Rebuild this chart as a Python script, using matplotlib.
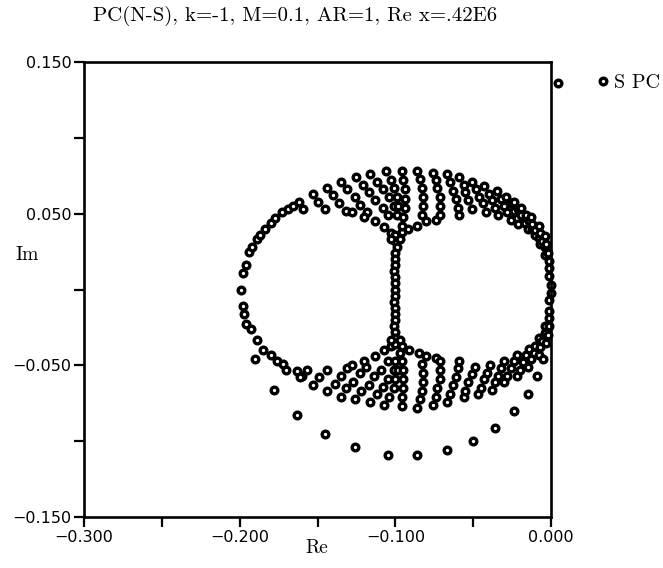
import matplotlib
matplotlib.use("Agg")
import matplotlib.pyplot as plt
from matplotlib import ticker

# eigenvalue spectrum (Re, Im)
# sparse outer ring, left side
ring_re = [-0.199, -0.198, -0.196, -0.194, -0.192, -0.189, -0.187, -0.184, -0.180, -0.177, -0.173, -0.169, -0.166,
           -0.198, -0.197, -0.196, -0.193, -0.189, -0.185, -0.180, -0.176, -0.172, -0.170, -0.163, -0.160]
ring_im = [0.000, 0.011, 0.016, 0.025, 0.028, 0.033, 0.036, 0.040, 0.044, 0.047, 0.051, 0.053, 0.055,
           -0.011, -0.016, -0.023, -0.026, -0.033, -0.040, -0.043, -0.047, -0.049, -0.053, -0.054, -0.057]

# upper half: bead chains running in from the outer ellipse
upper_re = [-0.162, -0.159,
            -0.153, -0.150, -0.145,
            -0.144, -0.140, -0.136, -0.132,
            -0.135, -0.131, -0.126, -0.123, -0.118,
            -0.125, -0.121, -0.117, -0.113, -0.108, -0.105,
            -0.116, -0.112, -0.108, -0.104, -0.101, -0.099,
            -0.106, -0.103, -0.101, -0.099, -0.098,
            -0.128, -0.120, -0.113, -0.107, -0.103,
            -0.096, -0.092, -0.086, -0.080, -0.074,
            -0.096, -0.095, -0.094, -0.094, -0.094, -0.095, -0.096,
            -0.086, -0.084, -0.083, -0.082, -0.082, -0.083,
            -0.076, -0.074, -0.073, -0.071, -0.071, -0.071,
            -0.067, -0.065, -0.063, -0.061, -0.060, -0.059,
            -0.059, -0.056, -0.055, -0.053, -0.051,
            -0.051, -0.048, -0.046, -0.044, -0.042,
            -0.043, -0.040, -0.038, -0.036, -0.034,
            -0.035, -0.032, -0.030, -0.028, -0.026,
            -0.029, -0.026, -0.024, -0.022, -0.021,
            -0.024, -0.021, -0.019, -0.017, -0.015,
            -0.019, -0.016, -0.014, -0.012, -0.010,
            -0.013, -0.012, -0.010, -0.008, -0.007,
            -0.008, -0.007, -0.006, -0.004, -0.004,
            -0.004, -0.003, -0.002, -0.001, -0.001]
upper_im = [0.058, 0.053,
            0.063, 0.058, 0.053,
            0.067, 0.062, 0.057, 0.052,
            0.071, 0.066, 0.061, 0.056, 0.051,
            0.074, 0.069, 0.064, 0.059, 0.054, 0.049,
            0.076, 0.071, 0.066, 0.061, 0.055, 0.049,
            0.078, 0.072, 0.067, 0.061, 0.055,
            0.051, 0.048, 0.045, 0.041, 0.037,
            0.038, 0.040, 0.042, 0.045, 0.046,
            0.078, 0.072, 0.066, 0.060, 0.054, 0.048, 0.042,
            0.078, 0.073, 0.067, 0.061, 0.055, 0.049,
            0.077, 0.072, 0.067, 0.061, 0.055, 0.049,
            0.076, 0.071, 0.065, 0.060, 0.054, 0.049,
            0.074, 0.069, 0.064, 0.059, 0.053,
            0.071, 0.066, 0.061, 0.057, 0.051,
            0.068, 0.063, 0.059, 0.054, 0.049,
            0.065, 0.060, 0.055, 0.051, 0.046,
            0.061, 0.057, 0.052, 0.047, 0.043,
            0.058, 0.053, 0.049, 0.044, 0.040,
            0.054, 0.049, 0.045, 0.040, 0.036,
            0.048, 0.043, 0.039, 0.034, 0.030,
            0.042, 0.037, 0.032, 0.028, 0.023,
            0.035, 0.030, 0.024, 0.019, 0.014]

# lower half chains
lower_re = [-0.161, -0.157,
            -0.153, -0.149, -0.144,
            -0.144, -0.139, -0.135, -0.131,
            -0.135, -0.132, -0.127, -0.123, -0.119,
            -0.126, -0.122, -0.117, -0.114, -0.109, -0.105,
            -0.116, -0.112, -0.108, -0.105, -0.101, -0.100,
            -0.107, -0.104, -0.101, -0.100, -0.098,
            -0.128, -0.120, -0.113, -0.107, -0.103,
            -0.096, -0.091, -0.085, -0.080, -0.074,
            -0.096, -0.096, -0.095, -0.095, -0.095, -0.096, -0.097,
            -0.086, -0.084, -0.083, -0.082, -0.082, -0.083,
            -0.076, -0.074, -0.073, -0.071, -0.071, -0.071,
            -0.067, -0.065, -0.063, -0.061, -0.060, -0.059,
            -0.056, -0.055, -0.053, -0.051, -0.049,
            -0.047, -0.045, -0.043, -0.041, -0.039,
            -0.038, -0.036, -0.034, -0.032, -0.030,
            -0.030, -0.028, -0.026, -0.024, -0.022,
            -0.022, -0.020, -0.018, -0.016, -0.014,
            -0.015, -0.013, -0.011, -0.010, -0.008,
            -0.008, -0.007, -0.006, -0.004, -0.004,
            -0.003, -0.002, -0.001, -0.001, -0.001]
lower_im = [-0.058, -0.053,
            -0.063, -0.058, -0.053,
            -0.067, -0.062, -0.057, -0.052,
            -0.071, -0.065, -0.061, -0.055, -0.051,
            -0.072, -0.067, -0.063, -0.057, -0.053, -0.047,
            -0.074, -0.069, -0.064, -0.059, -0.053, -0.047,
            -0.076, -0.071, -0.065, -0.059, -0.053,
            -0.050, -0.047, -0.044, -0.040, -0.037,
            -0.037, -0.040, -0.042, -0.044, -0.045,
            -0.077, -0.071, -0.065, -0.059, -0.053, -0.047, -0.042,
            -0.078, -0.072, -0.067, -0.061, -0.055, -0.049,
            -0.076, -0.071, -0.065, -0.059, -0.053, -0.047,
            -0.074, -0.069, -0.063, -0.058, -0.052, -0.047,
            -0.071, -0.067, -0.061, -0.056, -0.051,
            -0.069, -0.065, -0.059, -0.055, -0.050,
            -0.066, -0.061, -0.057, -0.052, -0.047,
            -0.061, -0.057, -0.052, -0.047, -0.043,
            -0.057, -0.053, -0.048, -0.043, -0.039,
            -0.051, -0.046, -0.042, -0.037, -0.032,
            -0.043, -0.038, -0.034, -0.029, -0.024,
            -0.035, -0.030, -0.024, -0.019, -0.014]

# vertical column at Re = -0.1 and the points right at the origin
column_re = [-0.100, -0.100, -0.099, -0.100, -0.100, -0.100, -0.101, -0.100, -0.100, -0.100,
             -0.100, -0.101, -0.100, -0.100, -0.100, -0.101, -0.100, -0.100, -0.100,
             -0.103, -0.097, -0.103, -0.097]
column_im = [0.036, 0.032, 0.028, 0.024, 0.020, 0.016, 0.012, 0.008, 0.004, 0.000,
             -0.004, -0.008, -0.012, -0.016, -0.020, -0.024, -0.028, -0.032, -0.036,
             0.033, 0.033, -0.033, -0.033]
edge_re = [-0.001, 0.000, 0.000, -0.001]
edge_im = [0.009, 0.003, -0.002, -0.007]

# isolated lower branch
branch_re = [-0.190, -0.178, -0.163, -0.145, -0.126, -0.105, -0.086, -0.067, -0.050, -0.036, -0.024, -0.015, -0.009, -0.005]
branch_im = [-0.046, -0.066, -0.083, -0.095, -0.104, -0.109, -0.109, -0.106, -0.100, -0.091, -0.080, -0.069, -0.057, -0.046]

# stray eigenvalue outside the frame
stray_re = [0.0045]
stray_im = [0.136]

title = 'PC(N-S), k=-1, M=0.1, AR=1, Re x=.42E6'
serif = ['cmr10', 'DejaVu Serif']

re = ring_re + upper_re + lower_re + column_re + edge_re + branch_re + stray_re
im = ring_im + upper_im + lower_im + column_im + edge_im + branch_im + stray_im

fig = plt.figure(figsize=(6.63, 5.68), dpi=100)
ax = fig.add_axes([84/663, 51/568, 467/663, 455/568])

ax.plot(re, im, linestyle='none', marker='o', markersize=4.8, markerfacecolor='white',
        markeredgecolor='black', markeredgewidth=2.4, clip_on=False, label='S PC')

ax.set_xlim(-0.3, 0.0)
ax.set_ylim(-0.15, 0.15)
ax.set_xticks([-0.3, -0.2, -0.1, 0.0])
ax.set_xticks([-0.25, -0.15, -0.05], minor=True)
ax.set_yticks([-0.15, -0.05, 0.05, 0.15])
ax.set_yticks([-0.1, 0.0, 0.1], minor=True)
fmt = ticker.FuncFormatter(lambda v, p: f'{v:.3f}'.replace('-', '\u2212'))
ax.xaxis.set_major_formatter(fmt)
ax.yaxis.set_major_formatter(fmt)
ax.tick_params(which='both', direction='out', length=7, width=1.6, top=False, right=False,
               labelsize=11.5, pad=2)
for s in ax.spines.values():
    s.set_linewidth(1.9)

fig.text(295/663, 1 - 16/568, title, ha='center', va='center', family=serif, fontsize=15)
fig.text(317/663, 1 - 548/568, 'Re', ha='center', va='center', family=serif, fontsize=14)
fig.text(27/663, 1 - 255/568, 'Im', ha='center', va='center', family=serif, fontsize=14)

ax.legend(loc='center left', bbox_to_anchor=(598/663, 1 - 83/568), bbox_transform=fig.transFigure,
          frameon=False, handlelength=0.5, handletextpad=0.3, borderpad=0, borderaxespad=0,
          numpoints=1, prop={'family': serif, 'size': 14.5})

fig.savefig('out.png', dpi=100)
